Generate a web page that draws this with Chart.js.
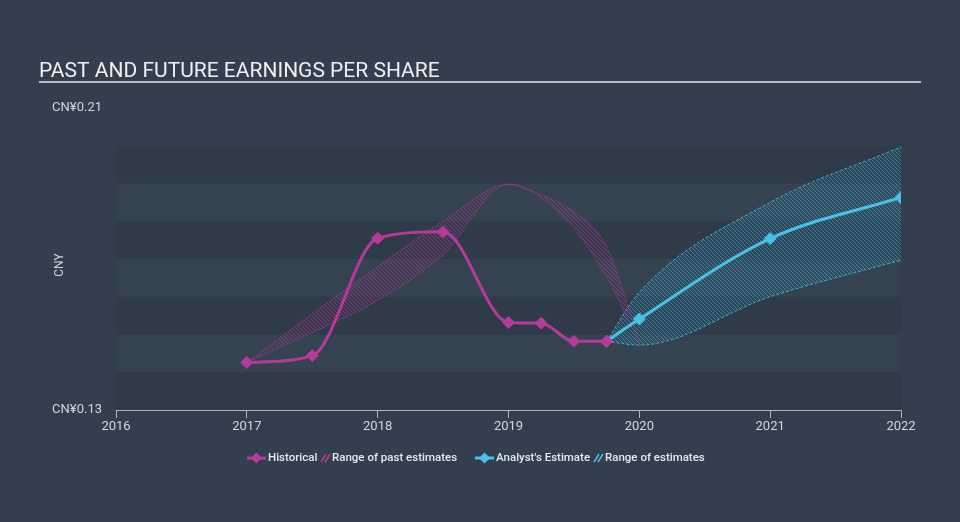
<!DOCTYPE html>
<html>
<head>
<meta charset="utf-8">
<script src="https://cdn.jsdelivr.net/npm/chart.js@4.4.0/dist/chart.umd.min.js"></script>
<style>
  html, body { margin: 0; padding: 0; background: #333f4e; }
  #wrap { width: 960px; height: 522px; position: relative; }
</style>
</head>
<body>
<div id="wrap"><canvas id="grafico-eps" width="960" height="522"></canvas></div>
<script>
// dados
const histYears = [2017, 2017.5, 2018, 2018.5, 2019, 2019.25, 2019.5, 2019.75];
const histEps = [0.1426, 0.1444, 0.1755, 0.1772, 0.1532, 0.1530, 0.1482, 0.1482];

const estYears = [2019.75, 2020, 2021, 2022];
const estEps = [0.1482, 0.1541, 0.1754, 0.1863];

const pastYears = [2017, 2017.5, 2018, 2018.5, 2019, 2019.25, 2019.5, 2019.75, 2020];
const pastLow = [0.1426, 0.1505, 0.1590, 0.1712, 0.1898, 0.1862, 0.1780, 0.1652, 0.1478];
const pastHigh = [0.1426, 0.1555, 0.1680, 0.1800, 0.1898, 0.1870, 0.1825, 0.1732, 0.1480];

const rangeYears = [2019.75, 2020, 2021, 2022];
const rangeLow = [0.1482, 0.1472, 0.1600, 0.1697];
const rangeHigh = [0.1482, 0.1612, 0.1850, 0.1997];

const yTicks = [0.13, 0.21];
const bandEdges = [0.13, 0.14, 0.15, 0.16, 0.17, 0.18, 0.19, 0.20];

const MAGENTA = '#b53a99';
const CYAN = '#4cc0e6';

function pontos(xs, ys) {
	return xs.map((x, i) => ({ x: x, y: ys[i] }));
}

function hachura(cor, fundo) {
	const c = document.createElement('canvas');
	c.width = 4; c.height = 4;
	const g = c.getContext('2d');
	g.fillStyle = fundo;
	g.fillRect(0, 0, 4, 4);
	g.strokeStyle = cor;
	g.lineWidth = 1;
	g.beginPath();
	g.moveTo(-1, -1); g.lineTo(5, 5);
	g.moveTo(-1, 3); g.lineTo(1, 5);
	g.moveTo(3, -1); g.lineTo(5, 1);
	g.stroke();
	return g.createPattern(c, 'repeat');
}

const faixas = {
	id: 'faixas',
	beforeDraw(chart) {
		const ctx = chart.ctx;
		const area = chart.chartArea;
		const y = chart.scales.y;
		ctx.save();
		for (let i = 0; i < bandEdges.length - 1; i++) {
			ctx.fillStyle = (i % 2 == 0) ? '#2f3b49' : '#354351';
			let y1 = y.getPixelForValue(bandEdges[i]);
			let y2 = y.getPixelForValue(bandEdges[i + 1]);
			ctx.fillRect(area.left, y2, area.right - area.left, y1 - y2);
		}
		ctx.restore();
	}
};

function marcador(ctx, x, y, cor) {
	ctx.strokeStyle = cor;
	ctx.lineWidth = 3;
	ctx.beginPath();
	ctx.moveTo(x, y); ctx.lineTo(x + 19, y);
	ctx.stroke();
	ctx.fillStyle = cor;
	ctx.beginPath();
	ctx.moveTo(x + 9.5, y - 5.5); ctx.lineTo(x + 15, y); ctx.lineTo(x + 9.5, y + 5.5); ctx.lineTo(x + 4, y);
	ctx.closePath();
	ctx.fill();
}

function iconeHachura(ctx, x, y, cor) {
	ctx.strokeStyle = cor;
	ctx.lineWidth = 1.5;
	ctx.beginPath();
	ctx.moveTo(x, y + 4); ctx.lineTo(x + 5, y - 4);
	ctx.moveTo(x + 4, y + 4); ctx.lineTo(x + 9, y - 4);
	ctx.stroke();
}

const textos = {
	id: 'textos',
	afterDraw(chart) {
		const ctx = chart.ctx;
		ctx.save();
		// titulo
		ctx.fillStyle = '#eef0f2';
		ctx.font = '21px Roboto';
		ctx.textBaseline = 'alphabetic';
		ctx.textAlign = 'left';
		ctx.fillText('PAST AND FUTURE EARNINGS PER SHARE', 39, 77);
		ctx.fillStyle = '#b9bec4';
		ctx.fillRect(39, 81, 882, 2);

		// titulo do eixo
		ctx.save();
		ctx.translate(60, 265);
		ctx.rotate(-Math.PI / 2);
		ctx.fillStyle = '#d3d7db';
		ctx.font = '12px Roboto';
		ctx.textAlign = 'center';
		ctx.textBaseline = 'middle';
		ctx.fillText('CNY', 0, 0);
		ctx.restore();

		// legenda
		const ly = 458;
		ctx.font = '500 11.5px Roboto';
		ctx.textBaseline = 'middle';
		marcador(ctx, 247, ly, MAGENTA);
		ctx.fillStyle = '#e8eaec';
		ctx.fillText('Historical', 268, ly);
		iconeHachura(ctx, 321, ly, MAGENTA);
		ctx.fillStyle = '#e8eaec';
		ctx.fillText('Range of past estimates', 332, ly);
		marcador(ctx, 475, ly, CYAN);
		ctx.fillStyle = '#e8eaec';
		ctx.fillText("Analyst's Estimate", 496, ly);
		iconeHachura(ctx, 594, ly, CYAN);
		ctx.fillStyle = '#e8eaec';
		ctx.fillText('Range of estimates', 605, ly);
		ctx.restore();
	}
};

const ctx = document.getElementById('grafico-eps');

const grafico = new Chart(ctx, {
	type: 'line',
	data: {
		datasets: [
			{
				label: 'Historical',
				data: pontos(histYears, histEps),
				borderColor: MAGENTA,
				backgroundColor: MAGENTA,
				borderWidth: 3,
				pointStyle: 'rectRot',
				pointRadius: 6,
				pointBorderWidth: 1,
				cubicInterpolationMode: 'monotone',
				fill: false
			},
			{
				label: "Analyst's Estimate",
				data: pontos(estYears, estEps),
				borderColor: CYAN,
				backgroundColor: CYAN,
				borderWidth: 3,
				pointStyle: 'rectRot',
				pointRadius: 6,
				pointBorderWidth: 1,
				cubicInterpolationMode: 'monotone',
				fill: false
			},
			{
				label: 'past low',
				data: pontos(pastYears, pastLow),
				borderColor: 'rgba(181,58,153,0.6)',
				borderWidth: 1,
				borderDash: [2, 1],
				pointRadius: 0,
				cubicInterpolationMode: 'monotone',
				fill: false
			},
			{
				label: 'Range of past estimates',
				data: pontos(pastYears, pastHigh),
				borderColor: 'rgba(181,58,153,0.6)',
				borderWidth: 1,
				borderDash: [2, 1],
				backgroundColor: hachura('rgba(181,58,153,0.6)', 'rgba(120,50,120,0.08)'),
				pointRadius: 0,
				cubicInterpolationMode: 'monotone',
				fill: '-1'
			},
			{
				label: 'range low',
				data: pontos(rangeYears, rangeLow),
				borderColor: 'rgba(76,192,230,0.8)',
				borderWidth: 1,
				borderDash: [3, 2],
				pointRadius: 0,
				cubicInterpolationMode: 'monotone',
				fill: false
			},
			{
				label: 'Range of estimates',
				data: pontos(rangeYears, rangeHigh),
				borderColor: 'rgba(76,192,230,0.8)',
				borderWidth: 1,
				borderDash: [3, 2],
				backgroundColor: hachura('rgba(76,192,230,0.5)', 'rgba(40,110,140,0.2)'),
				pointRadius: 0,
				cubicInterpolationMode: 'monotone',
				fill: '-1'
			}
		]
	},
	options: {
		responsive: false,
		animation: false,
		layout: { padding: { top: 108, left: 0, right: 59, bottom: 82 } },
		plugins: {
			legend: { display: false },
			tooltip: { enabled: false }
		},
		scales: {
			x: {
				type: 'linear',
				min: 2016,
				max: 2022,
				afterFit: (s) => { s.height = 30; },
				ticks: {
					stepSize: 1,
					color: '#d3d7db',
					font: { family: 'Roboto', size: 13 },
					padding: 1,
					maxRotation: 0,
					callback: (v) => String(v)
				},
				grid: {
					drawOnChartArea: false,
					drawTicks: true,
					tickLength: 8,
					color: '#aeb6be'
				},
				border: { color: '#aeb6be', width: 1 }
			},
			y: {
				min: 0.13,
				max: 0.21,
				afterFit: (s) => { s.width = 116; },
				afterBuildTicks: (s) => { s.ticks = yTicks.map((v) => ({ value: v })); },
				ticks: {
					color: '#d3d7db',
					font: { family: 'Roboto', size: 13 },
					padding: 14,
					callback: (v) => 'CN¥' + v.toFixed(2)
				},
				grid: { display: false, drawTicks: false, tickLength: 0 },
				border: { display: false }
			}
		}
	},
	plugins: [faixas, textos]
});
</script>
</body>
</html>
